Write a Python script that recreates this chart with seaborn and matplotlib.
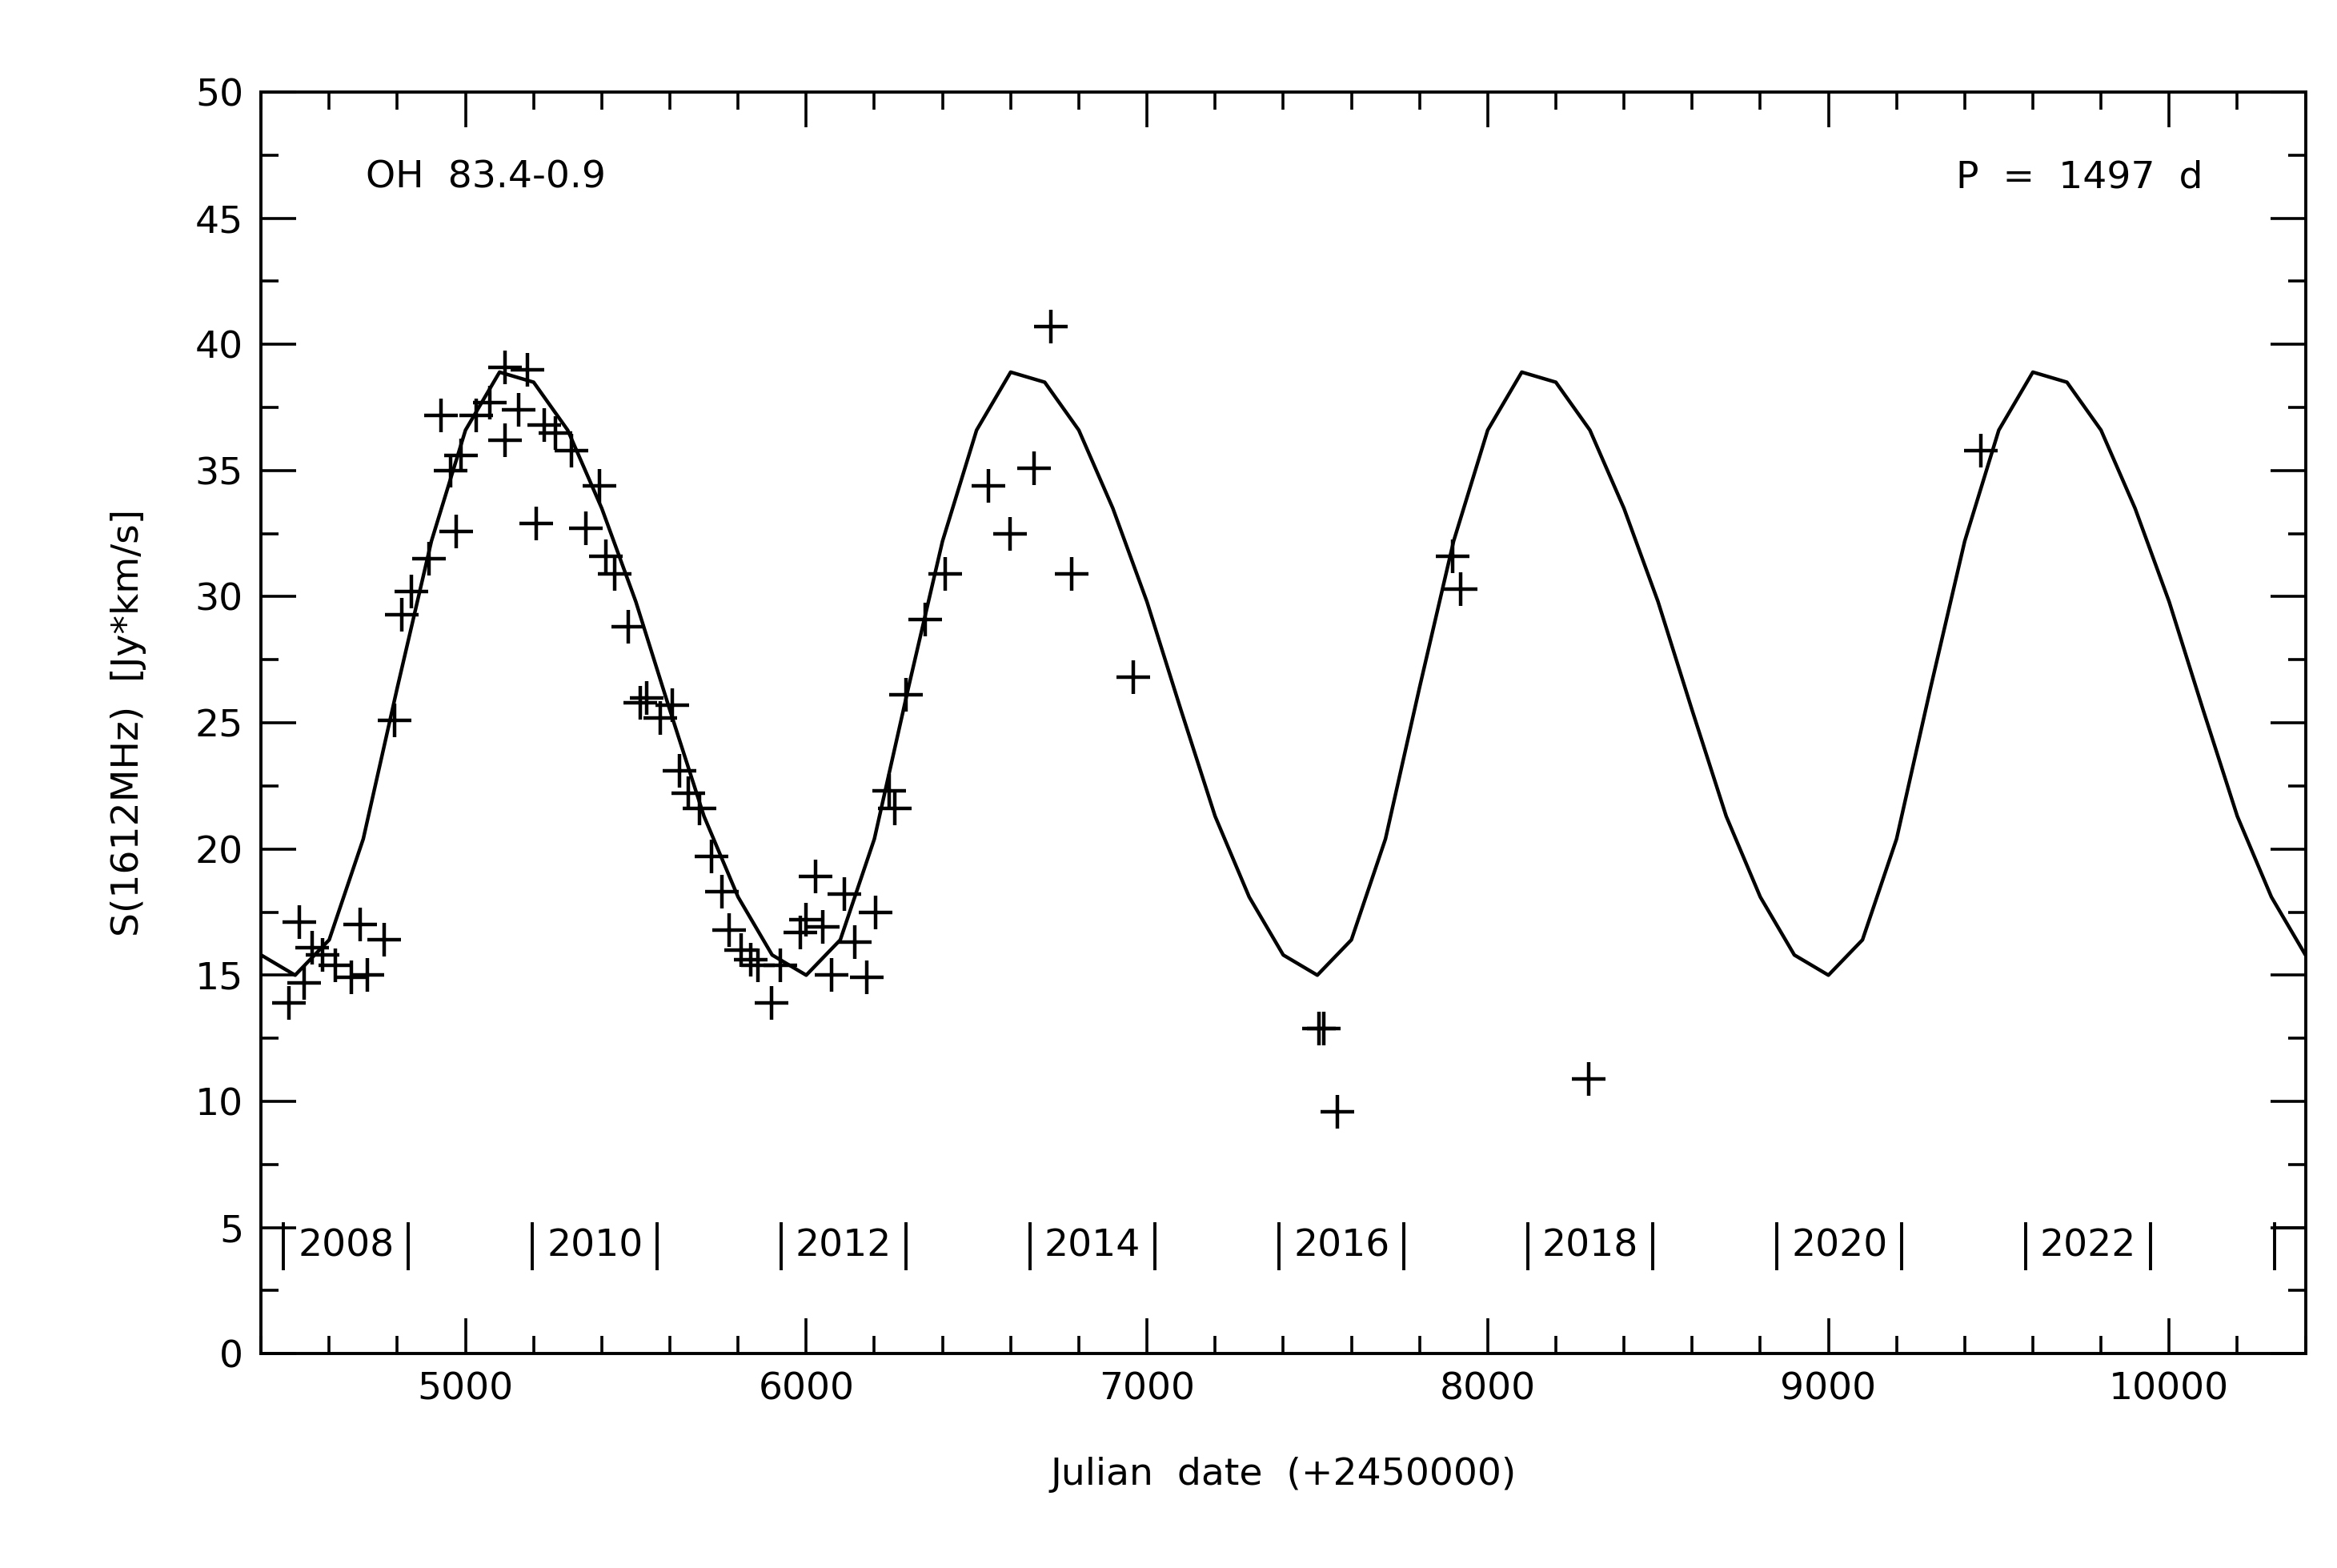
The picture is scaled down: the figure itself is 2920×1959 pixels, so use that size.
import numpy as np
import pandas as pd
import matplotlib
matplotlib.use("Agg")
import matplotlib.pyplot as plt
import seaborn as sns
from matplotlib.ticker import MultipleLocator

sns.set_style("ticks", {"axes.edgecolor": "black", "xtick.color": "black",
                        "ytick.color": "black", "text.color": "black",
                        "axes.labelcolor": "black"})

# observations (JD - 2450000, flux)
obs_jd = [4482, 4513, 4527, 4549, 4580, 4619, 4664, 4690, 4712, 4761, 4792, 4814, 4841,
          4894, 4929, 4956, 4973, 4987, 5031, 5071, 5115, 5115, 5155, 5181, 5208, 5230,
          5265, 5310, 5354, 5394, 5412, 5438, 5478, 5513, 5531, 5571, 5606, 5628, 5655,
          5686, 5721, 5752, 5774, 5810, 5836, 5858, 5898, 5925, 5982, 6000, 6027, 6049,
          6075, 6111, 6142, 6177, 6204, 6243, 6261, 6292, 6350, 6407, 6535, 6597, 6668,
          6717, 6779, 6960, 7504, 7518, 7558, 7898, 7920, 8296, 9447]
obs_flux = [13.9, 17.1, 14.7, 16.1, 15.8, 15.4, 14.9, 17.0, 15.0, 16.4, 25.1, 29.3, 30.2,
            31.5, 37.2, 35.0, 32.6, 35.6, 37.2, 37.7, 39.1, 36.2, 37.4, 39.0, 32.9, 36.8,
            36.5, 35.8, 32.7, 34.4, 31.6, 30.9, 28.8, 25.8, 26.0, 25.2, 25.7, 23.1, 22.2,
            21.6, 19.7, 18.3, 16.8, 16.0, 15.6, 15.4, 13.9, 15.4, 16.7, 17.2, 18.9, 16.9,
            15.0, 18.2, 16.3, 14.9, 17.5, 22.3, 21.6, 26.1, 29.1, 30.9, 34.4, 32.5, 35.1,
            40.7, 30.9, 26.8, 12.9, 12.9, 9.6, 31.6, 30.3, 10.9, 35.8]

# model curve sampled every 100 d from 4400 to 10400
model_jd = list(range(4400, 10500, 100))
model_flux = [15.8, 15.0, 16.4, 20.4, 26.4, 32.2, 36.6, 38.9, 38.5, 36.6, 33.5, 29.8, 25.5,
              21.3, 18.1, 15.8, 15.0, 16.4, 20.4, 26.4, 32.2, 36.6, 38.9, 38.5, 36.6, 33.5,
              29.8, 25.5, 21.3, 18.1, 15.8, 15.0, 16.4, 20.4, 26.4, 32.2, 36.6, 38.9, 38.5,
              36.6, 33.5, 29.8, 25.5, 21.3, 18.1, 15.8, 15.0, 16.4, 20.4, 26.4, 32.2, 36.6,
              38.9, 38.5, 36.6, 33.5, 29.8, 25.5, 21.3, 18.1, 15.8]

years = [2008, 2010, 2012, 2014, 2016, 2018, 2020, 2022]
year_start = [4466, 5197, 5927, 6658, 7388, 8119, 8849, 9580]
year_end = [4832, 5562, 6293, 7023, 7754, 8484, 9215, 9945]

obs = pd.DataFrame({"jd": obs_jd, "flux": obs_flux})
model = pd.DataFrame({"jd": model_jd, "flux": model_flux})

fig = plt.figure(figsize=(14.6, 9.795), dpi=200)
ax = fig.add_axes([0.1117, 0.1367, 0.8748, 0.8046])

sns.lineplot(data=model, x="jd", y="flux", color="black", lw=1.6, ax=ax)
sns.scatterplot(data=obs, x="jd", y="flux", marker="+", s=220, color="black",
                linewidth=1.6, ax=ax)

for ys, ye, yr in zip(year_start, year_end, years):
    ax.vlines([ys, ye], 3.3, 5.2, color="black", lw=1.4)
    ax.text((ys + ye) / 2, 4.25, str(yr), ha="center", va="center", fontsize=17)
ax.vlines(10310, 3.3, 5.2, color="black", lw=1.4)
ax.hlines(5.0, 10310, 10400, color="black", lw=1.4)

ax.set_xlim(4400, 10400)
ax.set_ylim(0, 50)
ax.xaxis.set_major_locator(MultipleLocator(1000))
ax.xaxis.set_minor_locator(MultipleLocator(200))
ax.yaxis.set_major_locator(MultipleLocator(5))
ax.yaxis.set_minor_locator(MultipleLocator(2.5))
ax.tick_params(which="both", direction="in", top=True, right=True, width=1.3,
               labelsize=17, pad=8, colors="black")
ax.tick_params(which="major", length=16)
ax.tick_params(which="minor", length=8)
for s in ax.spines.values():
    s.set_linewidth(1.4)
    s.set_color("black")

ax.text(4708, 46.6, "OH  83.4-0.9", fontsize=17, va="center")
ax.text(10100, 46.6, "P  =  1497  d", fontsize=17, va="center", ha="right")

ax.set_xlabel("Julian  date  (+2450000)", fontsize=17, labelpad=22)
ax.set_ylabel("S(1612MHz)  [Jy*km/s]", fontsize=17, labelpad=22)

fig.savefig("out.png", dpi=200)
